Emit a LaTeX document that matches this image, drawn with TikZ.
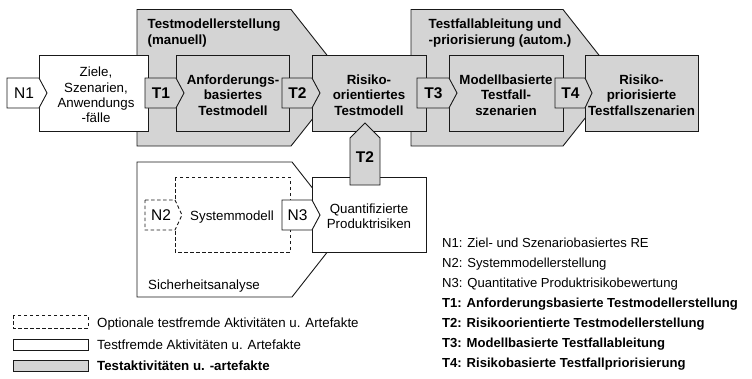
\documentclass[tikz,border=0pt]{standalone}
\usepackage{fontspec}
\setmainfont{Liberation Sans}
\definecolor{tgray}{RGB}{212,212,212}
\definecolor{lcol}{RGB}{25,25,25}
\begin{document}
\begin{tikzpicture}[x=1pt,y=-1pt,
  shp/.style={draw=lcol,line width=0.9pt,line join=miter},
  gshp/.style={shp,fill=tgray},
  wshp/.style={shp,fill=white},
  dshp/.style={shp,dash pattern=on 3.5pt off 2.5pt},
  txt/.style={font=\fontsize{13.3}{15.3}\selectfont,align=center,inner sep=0pt,text=black},
  btxt/.style={txt,font=\bfseries\fontsize{13.3}{15.3}\selectfont},
  ttxt/.style={inner sep=0pt,text=black,font=\fontsize{15.5}{18}\selectfont},
  bttxt/.style={ttxt,font=\bfseries\fontsize{15.5}{18}\selectfont},
  ltxt/.style={inner sep=0pt,text=black,anchor=base west,font=\fontsize{13.3}{15.3}\selectfont},
  bltxt/.style={ltxt,font=\bfseries\fontsize{13.3}{15.3}\selectfont},
  rtxt/.style={ltxt,font=\fontsize{13.1}{15.3}\selectfont},
  brtxt/.style={ltxt,font=\bfseries\fontsize{13.1}{15.3}\selectfont},
]
\useasboundingbox (0,0) rectangle (752,378);

% group shapes
\draw[gshp] (137,9.5) -- (291,9.5) -- (345,78) -- (291,146) -- (137,146) -- cycle;
\draw[gshp] (411,9.5) -- (563,9.5) -- (617,78) -- (563,146) -- (411,146) -- cycle;
\draw[wshp] (137,162) -- (292,162) -- (345,229.5) -- (292,297) -- (137,297) -- cycle;

% boxes
\draw[wshp] (39,55) rectangle (148,131);
\draw[gshp] (176,55) rectangle (289,131);
\draw[gshp] (312,55) rectangle (426,131);
\draw[gshp] (449,55) rectangle (563,131);
\draw[gshp] (585,55) rectangle (698,131);
\draw[wshp] (312,177) rectangle (426,252);
\draw[dshp] (175,177) rectangle (290,252);

% tags
\draw[wshp] (7,78) -- (39,78) -- (47,93) -- (39,108) -- (7,108) -- cycle;
\draw[gshp] (145,78) -- (176,78) -- (184,93) -- (176,108) -- (145,108) -- cycle;
\draw[gshp] (282,78) -- (312,78) -- (320,93) -- (312,108) -- (282,108) -- cycle;
\draw[gshp] (417,78) -- (449,78) -- (457,93) -- (449,108) -- (417,108) -- cycle;
\draw[gshp] (555,78) -- (585,78) -- (592,93) -- (585,108) -- (555,108) -- cycle;
\draw[wshp,dash pattern=on 3.5pt off 2.5pt] (145,200) -- (175,200) -- (182,215) -- (175,230) -- (145,230) -- cycle;
\draw[wshp] (282,200) -- (312,200) -- (320,215) -- (312,230) -- (282,230) -- cycle;
\draw[gshp] (350,185) -- (350,138) -- (365,123) -- (380,138) -- (380,185) -- cycle;

% titles
\node[btxt,align=left,anchor=center] (g1t) at (214,33) {Testmodellerstellung\\(manuell)};
\node[btxt,align=left,anchor=center] (g2t) at (500,33) {Testfallableitung und\\-priorisierung (autom.)};

% box texts
\node[txt] (n1box) at (96,95) {Ziele,\\Szenarien,\\Anwendungs\\-fälle};
\node[btxt] (anf) at (233,95) {Anforderungs-\\basiertes\\Testmodell};
\node[btxt] (rot) at (369,95) {Risiko-\\orientiertes\\Testmodell};
\node[btxt] (mbt) at (506,95) {Modellbasierte\\Testfall-\\szenarien};
\node[btxt] (rpt) at (641.5,95) {Risiko-\\priorisierte\\Testfallszenarien};
\node[txt] (qpr) at (369,216) {Quantifizierte\\Produktrisiken};
\node[ltxt,anchor=base] (sys) at (232,220) {Systemmodell};
\node[ltxt] (sich) at (148,289) {Sicherheitsanalyse};

% tag texts
\node[ttxt] (tn1) at (24,93) {N1};
\node[bttxt] (tt1) at (161,93) {T1};
\node[bttxt] (tt2) at (297.5,93) {T2};
\node[bttxt] (tt3) at (433.5,93) {T3};
\node[bttxt] (tt4) at (570.5,93) {T4};
\node[ttxt,solid] (tn2) at (161,215) {\textcolor{black}{N2}};
\node[ttxt] (tn3) at (297.5,215) {N3};
\node[bttxt] (tt2v) at (365,157) {T2};

% legend left
\draw[dshp] (13,315) rectangle (88,328);
\draw[shp] (13,339) rectangle (88,350);
\draw[gshp] (13,360) rectangle (88,371);
\node[ltxt] (l1) at (97,327) {Optionale testfremde Aktivitäten u. Artefakte};
\node[ltxt] (l2) at (97,349) {Testfremde Aktivitäten u. Artefakte};
\node[bltxt] (l3) at (97,370.5) {Testaktivitäten u. -artefakte};

% legend right
\node[rtxt] (r1) at (442,247.3) {N1: Ziel- und Szenariobasiertes RE};
\node[rtxt] (r2) at (442,267.3) {N2: Systemmodellerstellung};
\node[rtxt] (r3) at (442,287.3) {N3: Quantitative Produktrisikobewertung};
\node[brtxt] (r4) at (442,307.3) {T1: Anforderungsbasierte Testmodellerstellung};
\node[brtxt] (r5) at (442,327.3) {T2: Risikoorientierte Testmodellerstellung};
\node[brtxt] (r6) at (442,347.3) {T3: Modellbasierte Testfallableitung};
\node[brtxt] (r7) at (442,367.3) {T4: Risikobasierte Testfallpriorisierung};
\end{tikzpicture}
\end{document}
